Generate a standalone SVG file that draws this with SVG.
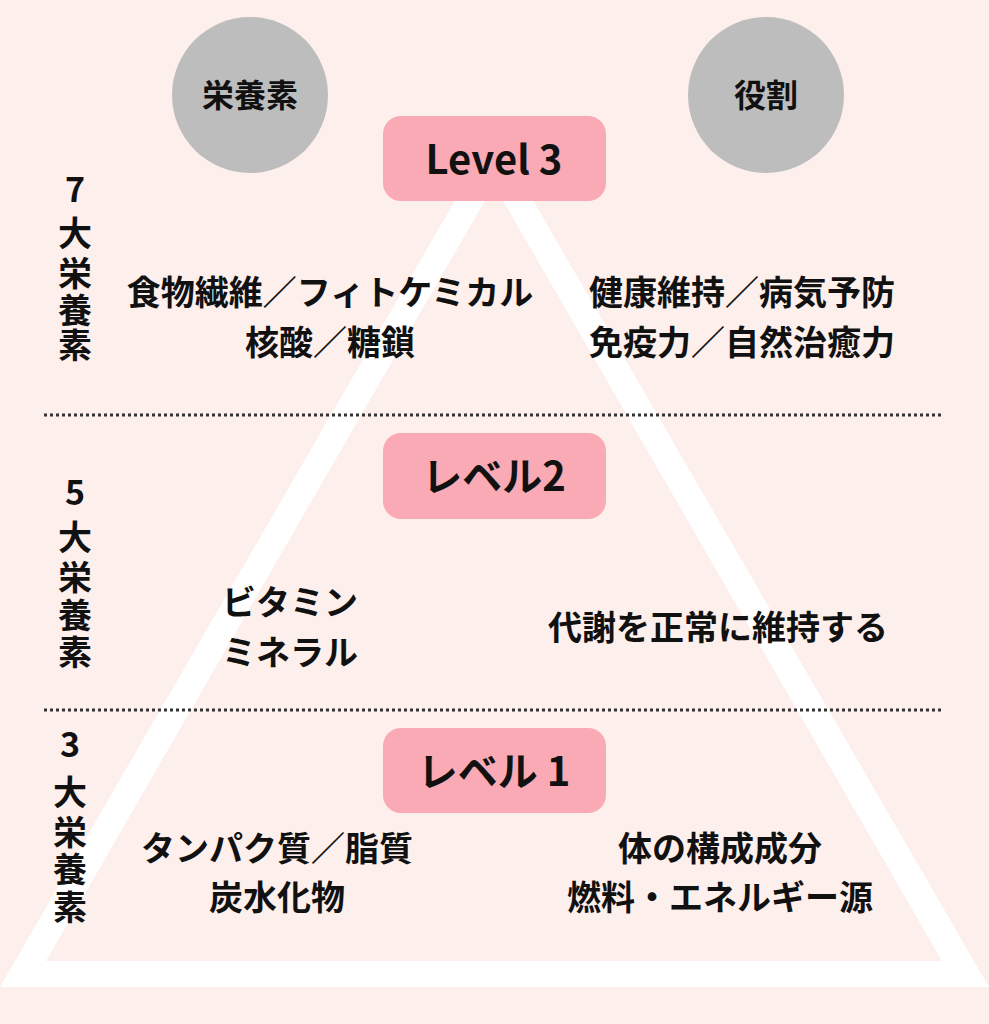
<svg xmlns="http://www.w3.org/2000/svg" width="989" height="1024" viewBox="0 0 989 1024">
<style>
.t{font-family:"Noto Sans CJK JP","Noto Sans",sans-serif;font-weight:bold;fill:#111;text-anchor:middle}
.m{font-size:32px}
.s{font-size:34px}
.v{font-size:40px}
.b{fill:#f9aab5}
.c{fill:#bdbdbd}
</style>
<rect width="989" height="1024" fill="#fdefec"/>
<polygon points="0,987 494,133 989,987" fill="#fff"/>
<polygon points="46,961 494,185 942,961" fill="#fdefec"/>
<g id="connectors">
<line x1="44" y1="415" x2="942" y2="415" stroke="#333" stroke-width="3" stroke-dasharray="3,3"/>
<line x1="44" y1="710" x2="942" y2="710" stroke="#333" stroke-width="3" stroke-dasharray="3,3"/>
</g>
<g id="c1"><circle class="c" cx="250" cy="95" r="78"/><text class="t m" x="250" y="107">栄養素</text></g>
<g id="c2"><circle class="c" cx="766" cy="95" r="78"/><text class="t m" x="766" y="107">役割</text></g>
<g id="l3"><rect class="b" x="383" y="116" width="223" height="85" rx="18"/><text class="t v" x="494" y="174">Level 3</text></g>
<g id="l2"><rect class="b" x="383" y="433" width="223" height="86" rx="18"/><text class="t v" x="494" y="491">レベル2</text></g>
<g id="l1"><rect class="b" x="383" y="728" width="223" height="85" rx="18"/><text class="t v" x="494" y="786">レベル 1</text></g>
<g id="side7"><text class="t s" x="75" y="202">7</text><text class="t s" x="75" y="246">大</text><text class="t s" x="75" y="286">栄</text><text class="t s" x="75" y="323">養</text><text class="t s" x="75" y="358">素</text></g>
<g id="side5"><text class="t s" x="75" y="505">5</text><text class="t s" x="75" y="550">大</text><text class="t s" x="75" y="590">栄</text><text class="t s" x="75" y="628">養</text><text class="t s" x="75" y="665">素</text></g>
<g id="side3"><text class="t s" x="70" y="757">3</text><text class="t s" x="70" y="805">大</text><text class="t s" x="70" y="845">栄</text><text class="t s" x="70" y="882">養</text><text class="t s" x="70" y="920">素</text></g>
<g id="n3l"><text class="t s" x="330" y="305">食物繊維／フィトケミカル</text><text class="t s" x="330" y="355">核酸／糖鎖</text></g>
<g id="n3r"><text class="t s" x="742" y="305">健康維持／病気予防</text><text class="t s" x="742" y="355">免疫力／自然治癒力</text></g>
<g id="n2l"><text class="t s" x="290" y="615">ビタミン</text><text class="t s" x="290" y="665">ミネラル</text></g>
<g id="n2r"><text class="t s" x="718" y="640">代謝を正常に維持する</text></g>
<g id="n1l"><text class="t s" x="277" y="861">タンパク質／脂質</text><text class="t s" x="277" y="910">炭水化物</text></g>
<g id="n1r"><text class="t s" x="720" y="861">体の構成成分</text><text class="t s" x="720" y="910">燃料・エネルギー源</text></g>
</svg>
